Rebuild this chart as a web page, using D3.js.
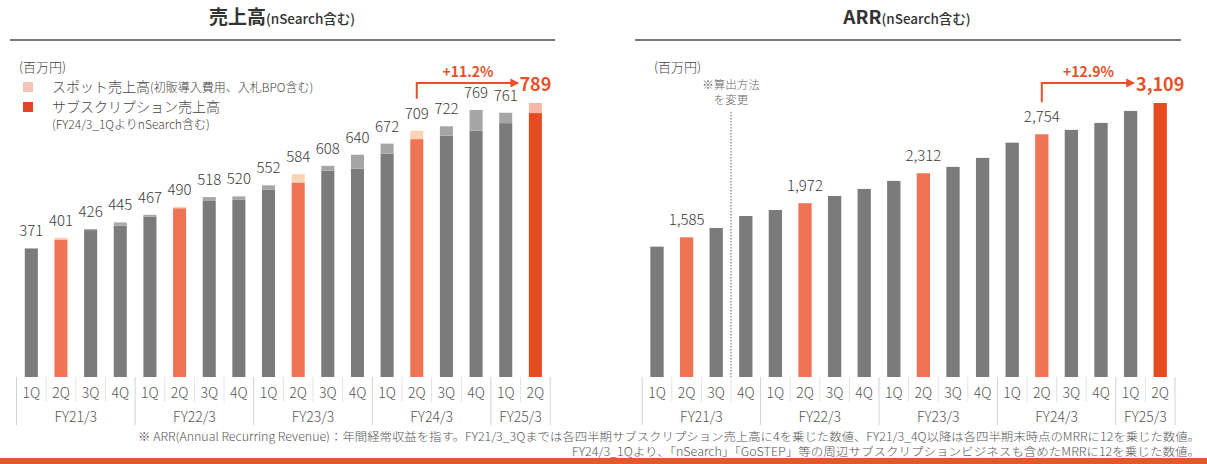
<!DOCTYPE html>
<html lang="ja">
<head>
<meta charset="utf-8">
<script src="https://cdn.jsdelivr.net/npm/d3@7"></script>
<style>
  html, body { margin: 0; padding: 0; background: #ffffff; }
  svg { display: block; font-family: "Noto Sans CJK JP", "Noto Sans", sans-serif; }
</style>
</head>
<body>
<svg id="chart" width="1207" height="464"></svg>
<script>
// Quarter labels shared by both panels
const quarters = ["1Q","2Q","3Q","4Q","1Q","2Q","3Q","4Q","1Q","2Q","3Q","4Q","1Q","2Q","3Q","4Q","1Q","2Q"];
const fiscalYears = ["FY21/3","FY22/3","FY23/3","FY24/3","FY25/3"];
const quartersPerYear = [4, 4, 4, 4, 2];

// 売上高 (百万円): total per quarter and the spot part of it
const salesTotal = [371, 401, 426, 445, 467, 490, 518, 520, 552, 584, 608, 640, 672, 709, 722, 769, 761, 789];
const salesSpot  = [1, 5, 3, 9, 5, 4, 11, 10, 12, 24, 14, 40, 29, 24, 27, 60, 30, 29];

// ARR (百万円)
const arrValues = [1479, 1585, 1691, 1827, 1895, 1972, 2054, 2134, 2225, 2312, 2384, 2486, 2659, 2754, 2804, 2883, 3019, 3109];
const arrLabelled = [1, 5, 9, 13, 17];

// Growth callouts
const salesGrowth = "+11.2%";
const arrGrowth = "+12.9%";

const C = {
  gray: "#7b7b7b",
  graySpot: "#a6a6a6",
  orange: "#ef7455",
  orangeSpot: "#fbd2b4",
  red: "#e64b1f",
  redSpot: "#f5b8a4",
  text: "#3a3a3a",
  tick: "#555555",
  accent: "#e8502a"
};

const svg = d3.select("#chart");
const last = quarters.length - 1;
const isSecondQ = i => quarters[i] === "2Q";
const barFill = i => i === last ? C.red : (isSecondQ(i) ? C.orange : C.gray);
const spotFill = i => i === last ? C.redSpot : (isSecondQ(i) ? C.orangeSpot : C.graySpot);

const baseY = 377, topY = 103;

function panelHeader(cx, x0, x1, main, sub) {
  const t = svg.append("text").attr("x", cx).attr("y", 24).attr("text-anchor", "middle").attr("fill", "#333");
  t.append("tspan").attr("font-size", 19).attr("font-weight", 700).text(main);
  t.append("tspan").attr("font-size", 13.5).attr("font-weight", 500).text(sub);
  svg.append("line").attr("x1", x0).attr("x2", x1).attr("y1", 40).attr("y2", 40)
    .attr("stroke", "#7a7a7a").attr("stroke-width", 2);
}

function categoryAxis(x) {
  const g = svg.append("g");
  const step = x.step();
  const left = x.range()[0];
  // quarter labels
  g.selectAll("text.q").data(quarters).join("text")
    .attr("x", (d, i) => x(i) + x.bandwidth() / 2)
    .attr("y", 398)
    .attr("text-anchor", "middle")
    .attr("font-size", 14)
    .attr("font-weight", 300)
    .attr("fill", C.tick)
    .text(d => d);
  // separators
  const yearEnds = d3.cumsum(quartersPerYear);
  const bounds = d3.range(quarters.length + 1);
  g.selectAll("line.sep").data(bounds).join("line")
    .attr("x1", b => left + b * step).attr("x2", b => left + b * step)
    .attr("y1", baseY)
    .attr("y2", b => (b === 0 || yearEnds.includes(b)) ? 425 : 402)
    .attr("stroke", b => (b === 0 || yearEnds.includes(b)) ? "#d2d2d2" : "#e4e4e4")
    .attr("stroke-width", 1);
  // fiscal year labels
  let start = 0;
  fiscalYears.forEach((fy, k) => {
    const n = quartersPerYear[k];
    const cx = left + (start + n / 2) * step;
    g.append("text").attr("x", cx).attr("y", 422).attr("text-anchor", "middle")
      .attr("font-size", 14).attr("font-weight", 300).attr("fill", C.tick).text(fy);
    start += n;
  });
}

function growthArrow(x, fromIdx, label, labelLeft, fromBaseline) {
  const x0 = x(fromIdx) + x.bandwidth() / 2;
  const tip = labelLeft - 3;
  const yH = 83;
  svg.append("path")
    .attr("d", `M${x0},${fromBaseline - 20} V${yH} H${tip - 8}`)
    .attr("fill", "none").attr("stroke", C.accent).attr("stroke-width", 2);
  svg.append("path")
    .attr("d", `M${tip},${yH} L${tip - 9},${yH - 4.5} L${tip - 9},${yH + 4.5} Z`)
    .attr("fill", C.accent);
  svg.append("text").attr("x", (x0 + tip) / 2).attr("y", 77).attr("text-anchor", "middle")
    .attr("font-size", 14).attr("font-weight", 700).attr("fill", C.accent).text(label);
}

// ---------------- 売上高 ----------------
panelHeader(282, 10, 555, "売上高", "(nSearch含む)");

const xS = d3.scaleBand().domain(d3.range(quarters.length)).range([16.5, 550.2])
  .paddingInner(0.56).paddingOuter(0.28);
const yS = d3.scaleLinear().domain([0, d3.max(salesTotal)]).range([baseY, topY]);

svg.append("text").attr("x", 19).attr("y", 72).attr("font-size", 13).attr("font-weight", 300).attr("fill", "#444").text("(百万円)");

// legend
svg.append("rect").attr("x", 23).attr("y", 82).attr("width", 10).attr("height", 10).attr("fill", "#f4c4b8");
const l1 = svg.append("text").attr("x", 52).attr("y", 92).attr("fill", "#444").attr("font-weight", 300);
l1.append("tspan").attr("font-size", 14).text("スポット売上高");
l1.append("tspan").attr("font-size", 12).text("(初販導入費用、入札BPO含む)");
svg.append("rect").attr("x", 23).attr("y", 102).attr("width", 10).attr("height", 10).attr("fill", "#e04526");
svg.append("text").attr("x", 52).attr("y", 112).attr("font-size", 14).attr("font-weight", 300).attr("fill", "#444").text("サブスクリプション売上高");
svg.append("text").attr("x", 52).attr("y", 129).attr("font-size", 12).attr("font-weight", 300).attr("fill", "#444").text("(FY24/3_1QよりnSearch含む)");

const gS = svg.append("g");
gS.selectAll("rect.sub").data(salesTotal).join("rect")
  .attr("x", (d, i) => xS(i)).attr("width", xS.bandwidth())
  .attr("y", (d, i) => yS(d - salesSpot[i]))
  .attr("height", (d, i) => baseY - yS(d - salesSpot[i]))
  .attr("fill", (d, i) => barFill(i));
gS.selectAll("rect.spot").data(salesTotal).join("rect")
  .attr("x", (d, i) => xS(i)).attr("width", xS.bandwidth())
  .attr("y", d => yS(d))
  .attr("height", (d, i) => yS(d - salesSpot[i]) - yS(d))
  .attr("fill", (d, i) => spotFill(i));
gS.selectAll("text.val").data(salesTotal).join("text")
  .attr("x", (d, i) => xS(i) + xS.bandwidth() / 2)
  .attr("y", d => yS(d) - 12)
  .attr("text-anchor", "middle")
  .attr("font-size", (d, i) => i === last ? 18 : 15)
  .attr("font-weight", (d, i) => i === last ? 700 : 300)
  .attr("fill", (d, i) => i === last ? C.accent : C.text)
  .text(d => d3.format(",")(d));

categoryAxis(xS);
{
  const lblW = 26;
  const lx = xS(last) + xS.bandwidth() / 2 - lblW / 2;
  growthArrow(xS, 13, salesGrowth, lx, yS(salesTotal[13]) - 12);
}

// ---------------- ARR ----------------
panelHeader(907, 635, 1181, "ARR", "(nSearch含む)");

const xA = d3.scaleBand().domain(d3.range(quarters.length)).range([642.2, 1175])
  .paddingInner(0.55).paddingOuter(0.275);
const yA = d3.scaleLinear().domain([0, d3.max(arrValues)]).range([baseY, topY]);

svg.append("text").attr("x", 654).attr("y", 72).attr("font-size", 13).attr("font-weight", 300).attr("fill", "#444").text("(百万円)");

// method-change marker between FY21/3 3Q and 4Q
const xChange = xA.range()[0] + 3 * xA.step();
svg.append("text").attr("x", xChange).attr("y", 89).attr("text-anchor", "middle")
  .attr("font-size", 11.5).attr("font-weight", 300).attr("fill", "#666").text("※算出方法");
svg.append("text").attr("x", xChange).attr("y", 104).attr("text-anchor", "middle")
  .attr("font-size", 11.5).attr("font-weight", 300).attr("fill", "#666").text("を変更");
svg.append("line").attr("x1", xChange).attr("x2", xChange).attr("y1", 112).attr("y2", baseY)
  .attr("stroke", "#666").attr("stroke-width", 1).attr("stroke-dasharray", "1.5,1.5");

const gA = svg.append("g");
gA.selectAll("rect").data(arrValues).join("rect")
  .attr("x", (d, i) => xA(i)).attr("width", xA.bandwidth())
  .attr("y", d => yA(d)).attr("height", d => baseY - yA(d))
  .attr("fill", (d, i) => barFill(i));
gA.selectAll("text.val").data(arrLabelled).join("text")
  .attr("x", i => xA(i) + xA.bandwidth() / 2)
  .attr("y", i => yA(arrValues[i]) - 12)
  .attr("text-anchor", "middle")
  .attr("font-size", i => i === last ? 18 : 15)
  .attr("font-weight", i => i === last ? 700 : 300)
  .attr("fill", i => i === last ? C.accent : C.text)
  .text(i => d3.format(",")(arrValues[i]));

categoryAxis(xA);
{
  const lblW = 44;
  const lx = xA(last) + xA.bandwidth() / 2 - lblW / 2;
  growthArrow(xA, 13, arrGrowth, lx, yA(arrValues[13]) - 12);
}

// ---------------- footnotes ----------------
svg.append("text").attr("x", 1200).attr("y", 441).attr("text-anchor", "end")
  .attr("font-size", 11.5).attr("font-weight", 300).attr("fill", "#555")
  .attr("textLength", 1062).attr("lengthAdjust", "spacingAndGlyphs")
  .text("※ ARR(Annual Recurring Revenue)：年間経常収益を指す。FY21/3_3Qまでは各四半期サブスクリプション売上高に4を乗じた数値、FY21/3_4Q以降は各四半期末時点のMRRに12を乗じた数値。");
svg.append("text").attr("x", 1200).attr("y", 456).attr("text-anchor", "end")
  .attr("font-size", 11.5).attr("font-weight", 300).attr("fill", "#555")
  .attr("textLength", 628).attr("lengthAdjust", "spacingAndGlyphs")
  .text("FY24/3_1Qより、「nSearch」「GoSTEP」等の周辺サブスクリプションビジネスも含めたMRRに12を乗じた数値。");

// bottom band
svg.append("rect").attr("x", 0).attr("y", 458).attr("width", 1207).attr("height", 6).attr("fill", "#e8552a");
</script>
</body>
</html>
